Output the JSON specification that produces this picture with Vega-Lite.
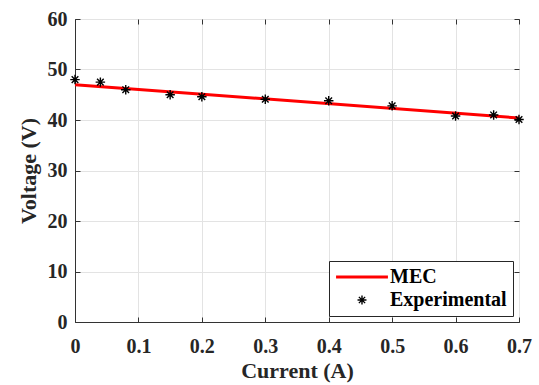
{
  "$schema": "https://vega.github.io/schema/vega-lite/v6.json",
  "width": 444,
  "height": 303,
  "autosize": {"type": "none"},
  "padding": {"left": 75, "top": 19, "right": 20, "bottom": 63},
  "background": "white",
  "config": {
    "font": "Liberation Serif",
    "view": {"stroke": "#333333", "strokeWidth": 1},
    "axis": {
      "labelFont": "Liberation Serif",
      "labelFontWeight": "bold",
      "labelFontSize": 20,
      "labelColor": "#262626",
      "labelFlush": false,
      "labelOverlap": false,
      "titleFont": "Liberation Serif",
      "titleFontWeight": "bold",
      "titleFontSize": 22,
      "titleColor": "#262626",
      "domainColor": "#333333",
      "tickColor": "#333333",
      "gridColor": "#e3e3e3",
      "tickSize": -5
    },
    "axisX": {"labelPadding": 19, "titlePadding": 4},
    "axisY": {"labelPadding": 13, "titlePadding": 7},
    "legend": {
      "orient": "bottom-right",
      "offset": 6,
      "strokeColor": "#262626",
      "fillColor": "white",
      "padding": 6,
      "labelFont": "Liberation Serif",
      "labelFontWeight": "bold",
      "labelFontSize": 20,
      "labelColor": "black",
      "symbolSize": 80,
      "symbolOffset": 17,
      "labelOffset": 18,
      "rowPadding": 3
    }
  },
  "datasets": {
    "mec": [
      {"current": 0, "voltage": 47.0, "series": "MEC"},
      {"current": 0.7, "voltage": 40.4, "series": "MEC"}
    ],
    "experimental": [
      {"current": 0.0, "voltage": 48.0, "series": "Experimental"},
      {"current": 0.04, "voltage": 47.5, "series": "Experimental"},
      {"current": 0.08, "voltage": 46.0, "series": "Experimental"},
      {"current": 0.15, "voltage": 45.0, "series": "Experimental"},
      {"current": 0.2, "voltage": 44.6, "series": "Experimental"},
      {"current": 0.3, "voltage": 44.1, "series": "Experimental"},
      {"current": 0.4, "voltage": 43.8, "series": "Experimental"},
      {"current": 0.5, "voltage": 42.8, "series": "Experimental"},
      {"current": 0.6, "voltage": 40.8, "series": "Experimental"},
      {"current": 0.66, "voltage": 41.0, "series": "Experimental"},
      {"current": 0.7, "voltage": 40.1, "series": "Experimental"}
    ]
  },
  "layer": [
    {
      "data": {"name": "mec"},
      "mark": {"type": "line", "clip": false},
      "encoding": {
        "x": {
          "field": "current", "type": "quantitative",
          "scale": {"domain": [0, 0.7], "nice": false},
          "axis": {"orient": "bottom", "title": "Current (A)", "values": [0, 0.1, 0.2, 0.3, 0.4, 0.5, 0.6, 0.7], "format": "~g", "grid": true}
        },
        "y": {
          "field": "voltage", "type": "quantitative",
          "scale": {"domain": [0, 60], "nice": false},
          "axis": {"orient": "left", "title": "Voltage (V)", "values": [0, 10, 20, 30, 40, 50, 60], "grid": true}
        },
        "color": {
          "field": "series", "type": "nominal",
          "scale": {"domain": ["MEC", "Experimental"], "range": ["#ff0000", "#000000"]},
          "legend": {"title": null}
        },
        "strokeWidth": {
          "field": "series", "type": "nominal",
          "scale": {"domain": ["MEC", "Experimental"], "range": [3, 1.4]},
          "legend": {"title": null}
        }
      }
    },
    {
      "data": {"name": "experimental"},
      "mark": {"type": "point", "filled": false, "size": 90, "clip": false, "opacity": 1},
      "encoding": {
        "x": {
          "field": "current", "type": "quantitative",
          "axis": {"orient": "top", "title": null, "labels": false, "grid": false, "domain": false, "values": [0, 0.1, 0.2, 0.3, 0.4, 0.5, 0.6, 0.7]}
        },
        "y": {
          "field": "voltage", "type": "quantitative",
          "axis": {"orient": "right", "title": null, "labels": false, "grid": false, "domain": false, "values": [0, 10, 20, 30, 40, 50, 60]}
        },
        "color": {"field": "series", "type": "nominal", "legend": {"title": null}},
        "strokeWidth": {"field": "series", "type": "nominal", "legend": {"title": null}},
        "shape": {
          "field": "series", "type": "nominal",
          "scale": {
            "domain": ["MEC", "Experimental"],
            "range": [
              "M-5.8,0L5.8,0",
              "M-1,0L1,0M0,-1L0,1M-0.7,-0.7L0.7,0.7M-0.7,0.7L0.7,-0.7"
            ]
          },
          "legend": {"title": null}
        }
      }
    }
  ]
}
